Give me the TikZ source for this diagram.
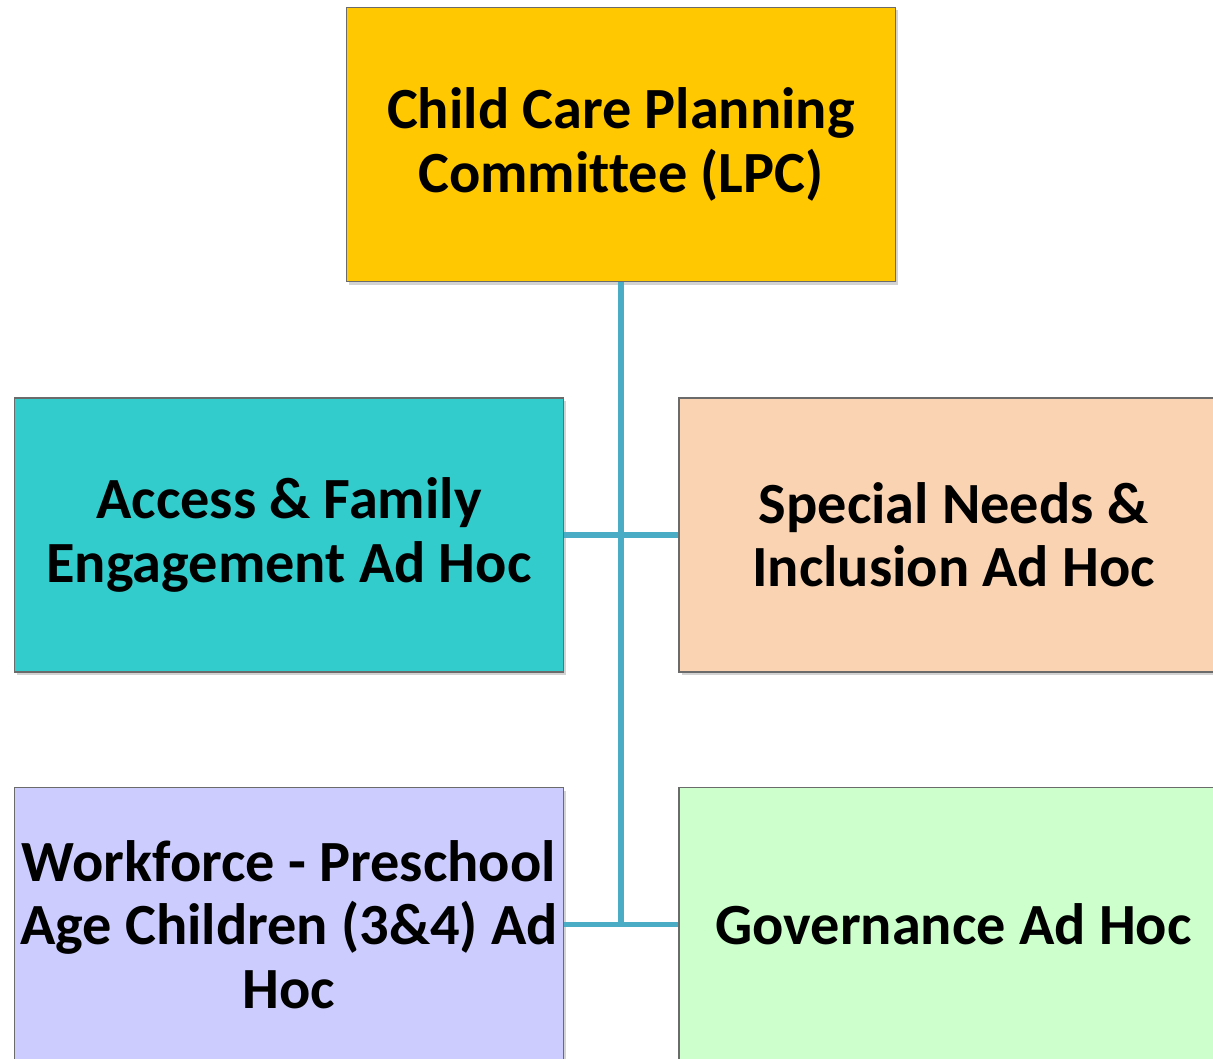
\documentclass[tikz,border=0pt]{standalone}
\usepackage{fontspec}
\setmainfont[Ligatures=NoCommon]{Carlito}
\usetikzlibrary{shadows}
\definecolor{lpcgold}{HTML}{FFC800}
\definecolor{teal}{HTML}{33CCCC}
\definecolor{peach}{HTML}{F9D3B2}
\definecolor{lavender}{HTML}{CCCCFF}
\definecolor{mint}{HTML}{CCFFCC}
\definecolor{link}{HTML}{4BACC6}
\definecolor{edge}{HTML}{6B6B6B}
\tikzset{
  adhoc/.style={draw=edge, line width=0.7pt, minimum width=10.98cm, minimum height=5.48cm,
    align=center, font=\bfseries\fontsize{33.2}{36}\selectfont, inner sep=2pt,
    drop shadow={shadow xshift=0.05cm, shadow yshift=-0.06cm, opacity=0.35}},
  wire/.style={draw=link, line width=3.3pt}
}
\begin{document}
\begin{tikzpicture}
\useasboundingbox (0,0) rectangle (24.26,-21.16);
\clip (0,0) rectangle (24.26,-21.16);
\node[adhoc, fill=lpcgold] (lpc) at (12.42,-2.89) {Child Care Planning\\Committee (LPC)};
\foreach \nm/\xc/\yc/\fc/\txt in {access/5.78/-10.70/teal/{Access \& Family\\Engagement Ad Hoc},
  special/19.07/-10.70/peach/{Special Needs \&\\Inclusion Ad Hoc},
  work/5.78/-18.49/lavender/{Workforce - Preschool\\Age Children (3\&4) Ad\\Hoc},
  gov/19.07/-18.49/mint/{Governance Ad Hoc}}{\node[adhoc, fill=\fc] (\nm) at (\xc,\yc) {\txt};}
\coordinate (j) at (lpc.south |- work.east);
\draw[wire] (lpc.south) -- (j);
\draw[wire] (access.east) -- (special.west);
\draw[wire] (work.east) -- (gov.west);
\end{tikzpicture}
\end{document}
